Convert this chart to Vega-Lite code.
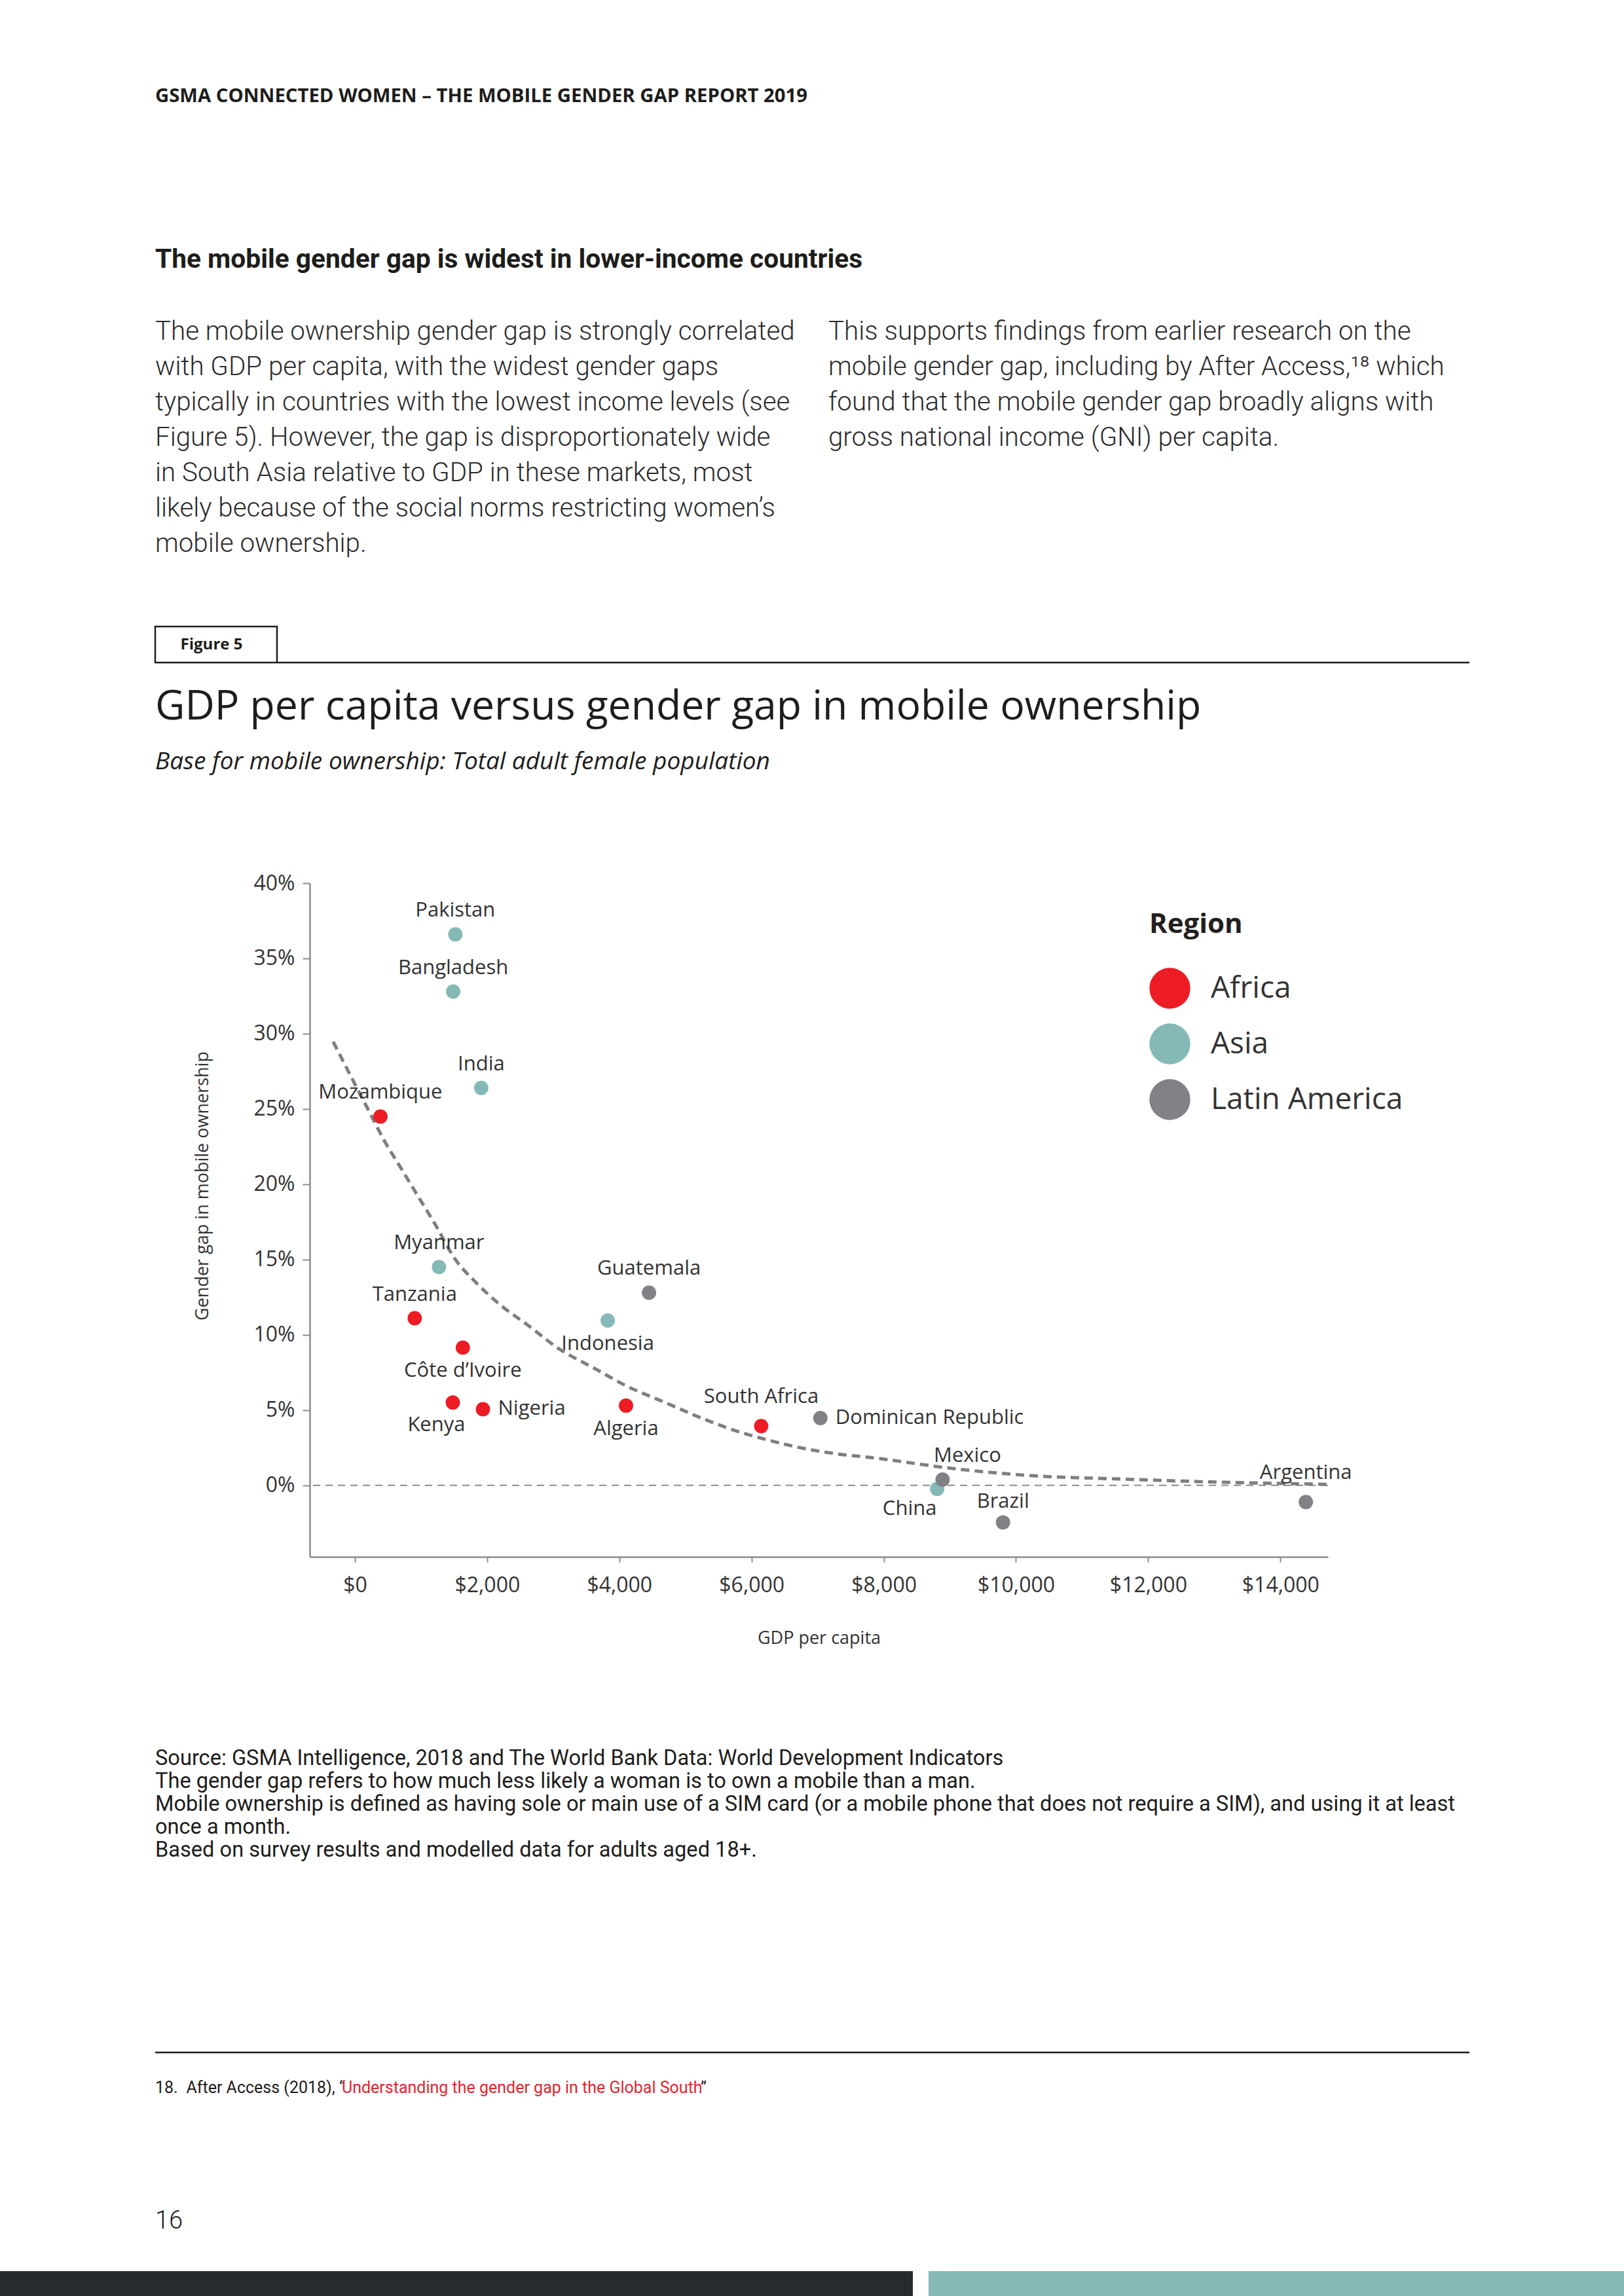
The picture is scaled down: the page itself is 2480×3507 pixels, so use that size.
{
  "$schema": "https://vega.github.io/schema/vega-lite/v6.json",
  "background": "#ffffff",
  "padding": 0,
  "autosize": {"type": "pad"},
  "config": {"view": {"stroke": null}, "font": "Open Sans"},
  "datasets": {
    "blank": [{}],
    "points": [
      {"country": "Pakistan", "region": "Asia", "gdp": 1519, "gap": 0.366},
      {"country": "Bangladesh", "region": "Asia", "gdp": 1487, "gap": 0.328},
      {"country": "India", "region": "Asia", "gdp": 1911, "gap": 0.264},
      {"country": "Mozambique", "region": "Africa", "gdp": 386, "gap": 0.245},
      {"country": "Myanmar", "region": "Asia", "gdp": 1272, "gap": 0.145},
      {"country": "Tanzania", "region": "Africa", "gdp": 905, "gap": 0.111},
      {"country": "Côte d’Ivoire", "region": "Africa", "gdp": 1633, "gap": 0.0915},
      {"country": "Kenya", "region": "Africa", "gdp": 1481, "gap": 0.055},
      {"country": "Nigeria", "region": "Africa", "gdp": 1937, "gap": 0.0506},
      {"country": "Indonesia", "region": "Asia", "gdp": 3825, "gap": 0.1095},
      {"country": "Guatemala", "region": "Latin America", "gdp": 4449, "gap": 0.128},
      {"country": "Algeria", "region": "Africa", "gdp": 4101, "gap": 0.053},
      {"country": "South Africa", "region": "Africa", "gdp": 6146, "gap": 0.0394},
      {"country": "Dominican Republic", "region": "Latin America", "gdp": 7041, "gap": 0.0447},
      {"country": "China", "region": "Asia", "gdp": 8808, "gap": -0.0024},
      {"country": "Mexico", "region": "Latin America", "gdp": 8890, "gap": 0.0038},
      {"country": "Brazil", "region": "Latin America", "gdp": 9804, "gap": -0.0246},
      {"country": "Argentina", "region": "Latin America", "gdp": 14385, "gap": -0.0111}
    ],
    "trend": [
      {"gdp": -329, "gap": 0.2947},
      {"gdp": -63, "gap": 0.2719},
      {"gdp": 190, "gap": 0.2505},
      {"gdp": 443, "gap": 0.2291},
      {"gdp": 696, "gap": 0.2108},
      {"gdp": 949, "gap": 0.1925},
      {"gdp": 1203, "gap": 0.1742},
      {"gdp": 1519, "gap": 0.1501},
      {"gdp": 1835, "gap": 0.1346},
      {"gdp": 2215, "gap": 0.1193},
      {"gdp": 2595, "gap": 0.1071},
      {"gdp": 3101, "gap": 0.0903},
      {"gdp": 3608, "gap": 0.0781},
      {"gdp": 4114, "gap": 0.0659},
      {"gdp": 4684, "gap": 0.0552},
      {"gdp": 5253, "gap": 0.0445},
      {"gdp": 5759, "gap": 0.0363},
      {"gdp": 6266, "gap": 0.0299},
      {"gdp": 6772, "gap": 0.0247},
      {"gdp": 7329, "gap": 0.0207},
      {"gdp": 7798, "gap": 0.0185},
      {"gdp": 9060, "gap": 0.0111},
      {"gdp": 10322, "gap": 0.0062},
      {"gdp": 11584, "gap": 0.0042},
      {"gdp": 12845, "gap": 0.0024},
      {"gdp": 14719, "gap": 0.0007}
    ]
  },
  "spacing": 0,
  "bounds": "flush",
  "resolve": {"legend": {"color": "independent"}},
  "vconcat": [
    {"width": 1, "height": 155, "data": {"name": "blank"}, "mark": {"type": "text", "text": ""}},
    {"width": 474, "height": 2, "data": {"name": "blank"},
     "mark": {"type": "text", "text": "GSMA CONNECTED WOMEN – THE MOBILE GENDER GAP REPORT 2019", "align": "left", "baseline": "alphabetic", "font": "Open Sans", "fontWeight": "bold", "fontSize": 29.3, "color": "#1d1d1b"}},
    {"width": 1, "height": 251, "data": {"name": "blank"}, "mark": {"type": "text", "text": ""}},
    {"width": 474, "height": 2, "data": {"name": "blank"},
     "mark": {"type": "text", "text": "The mobile gender gap is widest in lower-income countries", "align": "left", "baseline": "alphabetic", "font": "Roboto", "fontWeight": "bold", "fontSize": 40.7, "color": "#1d1d1b"}},
    {"width": 1, "height": 108, "data": {"name": "blank"}, "mark": {"type": "text", "text": ""}},
    {"spacing": 0, "bounds": "flush", "hconcat": [
      {"width": 474, "height": 2, "data": {"name": "blank"},
       "mark": {"type": "text", "text": ["The mobile ownership gender gap is strongly correlated", "with GDP per capita, with the widest gender gaps", "typically in countries with the lowest income levels (see", "Figure 5). However, the gap is disproportionately wide", "in South Asia relative to GDP in these markets, most", "likely because of the social norms restricting women’s", "mobile ownership."], "lineHeight": 54, "align": "left", "baseline": "alphabetic", "font": "Roboto", "fontWeight": 300, "fontSize": 40.3, "color": "#2b2b2b"}},
      {"width": 1582, "height": 2, "data": {"name": "blank"},
       "mark": {"type": "text", "text": ["This supports findings from earlier research on the", "mobile gender gap, including by After Access,¹⁸ which", "found that the mobile gender gap broadly aligns with", "gross national income (GNI) per capita."], "lineHeight": 54, "align": "left", "baseline": "alphabetic", "font": "Roboto", "fontWeight": 300, "fontSize": 40.3, "color": "#2b2b2b"}}
    ]},
    {"width": 1, "height": 439, "data": {"name": "blank"}, "mark": {"type": "text", "text": ""}},
    {"spacing": 0, "bounds": "flush", "hconcat": [
      {"width": 237, "height": 55, "data": {"name": "blank"}, "mark": {"type": "text", "text": ""}},
      {"width": 186, "height": 55, "data": {"name": "blank"}, "view": {"stroke": "#1d1d1b", "strokeWidth": 2.5},
       "mark": {"type": "text", "text": "Figure 5", "align": "center", "baseline": "middle", "dx": -7, "font": "Open Sans", "fontWeight": "bold", "fontSize": 24, "color": "#1d1d1b"}},
      {"width": 1821, "height": 55, "data": {"name": "blank"},
       "mark": {"type": "rule", "color": "#1d1d1b", "strokeWidth": 2.5},
       "encoding": {"y": {"datum": 0, "type": "quantitative", "scale": {"domain": [0, 1]}, "axis": null}}}
    ]},
    {"width": 1, "height": 141, "data": {"name": "blank"}, "mark": {"type": "text", "text": ""}},
    {"width": 474, "height": 2, "data": {"name": "blank"},
     "mark": {"type": "text", "text": "GDP per capita versus gender gap in mobile ownership", "align": "left", "baseline": "alphabetic", "font": "Open Sans", "fontWeight": "normal", "fontSize": 62.5, "color": "#1d1d1b"}},
    {"width": 1, "height": 74, "data": {"name": "blank"}, "mark": {"type": "text", "text": ""}},
    {"width": 474, "height": 2, "data": {"name": "blank"},
     "mark": {"type": "text", "text": "Base for mobile ownership: Total adult female population", "align": "left", "baseline": "alphabetic", "font": "Open Sans", "fontStyle": "italic", "fontSize": 37, "color": "#1d1d1b"}},
    {"width": 1, "height": 173, "data": {"name": "blank"}, "mark": {"type": "text", "text": ""}},
    {"spacing": 0, "bounds": "flush", "resolve": {"legend": {"color": "independent"}}, "hconcat": [
      {"width": 472.5, "height": 1029, "data": {"name": "blank"}, "mark": {"type": "text", "text": ""}},
      {"width": 1555, "height": 1029,
       "layer": [
        {"data": {"name": "blank"},
         "mark": {"type": "rule", "color": "#8c8c8c", "strokeWidth": 2, "strokeDash": [11, 8]},
         "encoding": {"y": {"datum": 0, "type": "quantitative", "scale": {"domain": [-0.0475, 0.4], "nice": false, "zero": false}}}},
        {"data": {"name": "trend"},
         "mark": {"type": "line", "interpolate": "monotone", "color": "#7f7f7f", "strokeWidth": 5, "strokeDash": [13, 8]},
         "encoding": {
           "x": {"field": "gdp", "type": "quantitative", "scale": {"domain": [-683, 14720], "nice": false, "zero": false}},
           "y": {"field": "gap", "type": "quantitative", "scale": {"domain": [-0.0475, 0.4], "nice": false, "zero": false}}}},
        {"data": {"name": "points"},
         "mark": {"type": "circle", "size": 480, "opacity": 1},
         "encoding": {
           "x": {"field": "gdp", "type": "quantitative", "scale": {"domain": [-683, 14720], "nice": false, "zero": false},
                 "axis": {"values": [0, 2000, 4000, 6000, 8000, 10000, 12000, 14000], "format": "$,.0f", "grid": false,
                          "labelFont": "Open Sans", "labelFontSize": 32, "labelColor": "#333333", "labelPadding": 20,
                          "tickSize": 8, "tickWidth": 2, "tickColor": "#8c8c8c", "domainColor": "#8c8c8c", "domainWidth": 2.5,
                          "title": "GDP per capita", "titleFont": "Open Sans", "titleFontSize": 27, "titleFontWeight": "normal", "titleColor": "#333333", "titlePadding": 52}},
           "y": {"field": "gap", "type": "quantitative", "scale": {"domain": [-0.0475, 0.4], "nice": false, "zero": false},
                 "axis": {"values": [0, 0.05, 0.1, 0.15, 0.2, 0.25, 0.3, 0.35, 0.4], "format": ".0%", "grid": false,
                          "labelFont": "Open Sans", "labelFontSize": 32, "labelColor": "#333333", "labelPadding": 12,
                          "tickSize": 11, "tickWidth": 2, "tickColor": "#8c8c8c", "domainColor": "#8c8c8c", "domainWidth": 2.5,
                          "title": "Gender gap in mobile ownership", "titleFont": "Open Sans", "titleFontSize": 27, "titleFontWeight": "normal", "titleColor": "#333333",
                          "titleX": -150, "titleY": 462}},
           "color": {"field": "region", "type": "nominal",
                     "scale": {"domain": ["Africa", "Asia", "Latin America"], "range": ["#ed1c24", "#84b9b5", "#808285"]},
                     "legend": {"orient": "none", "legendX": 1282, "legendY": 43, "title": "Region",
                                "titleFont": "Open Sans", "titleFontSize": 42, "titleFontWeight": "bold", "titleColor": "#231f20", "titlePadding": 44,
                                "labelFont": "Open Sans", "labelFontSize": 46, "labelColor": "#333333", "labelOffset": 31, "labelLimit": 0,
                                "symbolType": "circle", "symbolSize": 3900, "symbolStrokeWidth": 0, "symbolOpacity": 1, "rowPadding": 22}}}},
        {"data": {"name": "points"},
         "transform": [{"filter": {"field": "country", "oneOf": ["Pakistan", "Bangladesh", "India", "Mozambique", "Myanmar", "Tanzania", "Guatemala"]}}],
         "mark": {"type": "text", "font": "Open Sans", "fontSize": 31, "color": "#333333", "baseline": "middle", "dy": -36},
         "encoding": {
           "x": {"field": "gdp", "type": "quantitative", "scale": {"domain": [-683, 14720], "nice": false, "zero": false}},
           "y": {"field": "gap", "type": "quantitative", "scale": {"domain": [-0.0475, 0.4], "nice": false, "zero": false}},
           "text": {"field": "country"}}},
        {"data": {"name": "points"},
         "transform": [{"filter": {"field": "country", "oneOf": ["South Africa", "Argentina"]}}],
         "mark": {"type": "text", "font": "Open Sans", "fontSize": 31, "color": "#333333", "baseline": "middle", "dy": -44},
         "encoding": {
           "x": {"field": "gdp", "type": "quantitative", "scale": {"domain": [-683, 14720], "nice": false, "zero": false}},
           "y": {"field": "gap", "type": "quantitative", "scale": {"domain": [-0.0475, 0.4], "nice": false, "zero": false}},
           "text": {"field": "country"}}},
        {"data": {"name": "points"},
         "transform": [{"filter": {"field": "country", "oneOf": ["Brazil"]}}],
         "mark": {"type": "text", "font": "Open Sans", "fontSize": 31, "color": "#333333", "baseline": "middle", "dy": -31},
         "encoding": {
           "x": {"field": "gdp", "type": "quantitative", "scale": {"domain": [-683, 14720], "nice": false, "zero": false}},
           "y": {"field": "gap", "type": "quantitative", "scale": {"domain": [-0.0475, 0.4], "nice": false, "zero": false}},
           "text": {"field": "country"}}},
        {"data": {"name": "points"},
         "transform": [{"filter": {"field": "country", "oneOf": ["Côte d’Ivoire", "Indonesia", "Algeria"]}}],
         "mark": {"type": "text", "font": "Open Sans", "fontSize": 31, "color": "#333333", "baseline": "middle", "dy": 36},
         "encoding": {
           "x": {"field": "gdp", "type": "quantitative", "scale": {"domain": [-683, 14720], "nice": false, "zero": false}},
           "y": {"field": "gap", "type": "quantitative", "scale": {"domain": [-0.0475, 0.4], "nice": false, "zero": false}},
           "text": {"field": "country"}}},
        {"data": {"name": "points"},
         "transform": [{"filter": {"field": "country", "oneOf": ["Kenya"]}}],
         "mark": {"type": "text", "font": "Open Sans", "fontSize": 31, "color": "#333333", "baseline": "middle", "dx": -25, "dy": 35},
         "encoding": {
           "x": {"field": "gdp", "type": "quantitative", "scale": {"domain": [-683, 14720], "nice": false, "zero": false}},
           "y": {"field": "gap", "type": "quantitative", "scale": {"domain": [-0.0475, 0.4], "nice": false, "zero": false}},
           "text": {"field": "country"}}},
        {"data": {"name": "points"},
         "transform": [{"filter": {"field": "country", "oneOf": ["Nigeria", "Dominican Republic"]}}],
         "mark": {"type": "text", "font": "Open Sans", "fontSize": 31, "color": "#333333", "baseline": "middle", "align": "left", "dx": 23},
         "encoding": {
           "x": {"field": "gdp", "type": "quantitative", "scale": {"domain": [-683, 14720], "nice": false, "zero": false}},
           "y": {"field": "gap", "type": "quantitative", "scale": {"domain": [-0.0475, 0.4], "nice": false, "zero": false}},
           "text": {"field": "country"}}},
        {"data": {"name": "points"},
         "transform": [{"filter": {"field": "country", "oneOf": ["Mexico"]}}],
         "mark": {"type": "text", "font": "Open Sans", "fontSize": 31, "color": "#333333", "baseline": "middle", "dx": 38, "dy": -36},
         "encoding": {
           "x": {"field": "gdp", "type": "quantitative", "scale": {"domain": [-683, 14720], "nice": false, "zero": false}},
           "y": {"field": "gap", "type": "quantitative", "scale": {"domain": [-0.0475, 0.4], "nice": false, "zero": false}},
           "text": {"field": "country"}}},
        {"data": {"name": "points"},
         "transform": [{"filter": {"field": "country", "oneOf": ["China"]}}],
         "mark": {"type": "text", "font": "Open Sans", "fontSize": 31, "color": "#333333", "baseline": "middle", "dx": -42, "dy": 31},
         "encoding": {
           "x": {"field": "gdp", "type": "quantitative", "scale": {"domain": [-683, 14720], "nice": false, "zero": false}},
           "y": {"field": "gap", "type": "quantitative", "scale": {"domain": [-0.0475, 0.4], "nice": false, "zero": false}},
           "text": {"field": "country"}}}
       ]}
    ]},
    {"width": 1, "height": 1346, "data": {"name": "blank"}, "mark": {"type": "text", "text": ""}},
    {"width": 474, "height": 2, "data": {"name": "blank"},
     "mark": {"type": "text", "text": ["Source: GSMA Intelligence, 2018 and The World Bank Data: World Development Indicators", "The gender gap refers to how much less likely a woman is to own a mobile than a man.", "Mobile ownership is defined as having sole or main use of a SIM card (or a mobile phone that does not require a SIM), and using it at least", "once a month.", "Based on survey results and modelled data for adults aged 18+."], "lineHeight": 35, "align": "left", "baseline": "alphabetic", "font": "Roboto", "fontWeight": "normal", "fontSize": 32.6, "color": "#1d1d1b"}},
    {"spacing": 0, "bounds": "flush", "hconcat": [
      {"width": 237, "height": 438, "data": {"name": "blank"}, "mark": {"type": "text", "text": ""}},
      {"width": 2007, "height": 438, "data": {"name": "blank"},
       "mark": {"type": "rule", "color": "#1d1d1b", "strokeWidth": 2.5},
       "encoding": {"y": {"datum": 0, "type": "quantitative", "scale": {"domain": [0, 1]}, "axis": null}}}
    ]},
    {"width": 1, "height": 499, "data": {"name": "blank"}, "mark": {"type": "text", "text": ""}},
    {"width": 474, "height": 2, "data": {"name": "blank"},
     "layer": [
       {"mark": {"type": "text", "text": "18.", "align": "left", "baseline": "alphabetic", "font": "Roboto", "fontSize": 25, "color": "#1d1d1b"}},
       {"mark": {"type": "text", "text": "After Access (2018), “", "align": "left", "baseline": "alphabetic", "dx": 47.5, "font": "Roboto", "fontSize": 25, "color": "#1d1d1b"}},
       {"mark": {"type": "text", "text": "Understanding the gender gap in the Global South", "align": "left", "baseline": "alphabetic", "dx": 285, "font": "Roboto", "fontSize": 25, "color": "#e2262f"}},
       {"mark": {"type": "text", "text": "”", "align": "left", "baseline": "alphabetic", "dx": 833, "font": "Roboto", "fontSize": 25, "color": "#1d1d1b"}}
     ]},
    {"width": 1, "height": 205, "data": {"name": "blank"}, "mark": {"type": "text", "text": ""}},
    {"width": 474, "height": 2, "data": {"name": "blank"},
     "mark": {"type": "text", "text": "16", "align": "left", "baseline": "alphabetic", "font": "Roboto", "fontWeight": 300, "fontSize": 38, "color": "#1d1d1b"}},
    {"width": 1, "height": 64, "data": {"name": "blank"}, "mark": {"type": "text", "text": ""}},
    {"spacing": 0, "bounds": "flush", "hconcat": [
      {"width": 1394, "height": 38, "data": {"name": "blank"}, "view": {"fill": "#272a2e"}, "mark": {"type": "text", "text": ""}},
      {"width": 24, "height": 38, "data": {"name": "blank"}, "mark": {"type": "text", "text": ""}},
      {"width": 1062, "height": 38, "data": {"name": "blank"}, "view": {"fill": "#84b9b5"}, "mark": {"type": "text", "text": ""}}
    ]}
  ]
}
